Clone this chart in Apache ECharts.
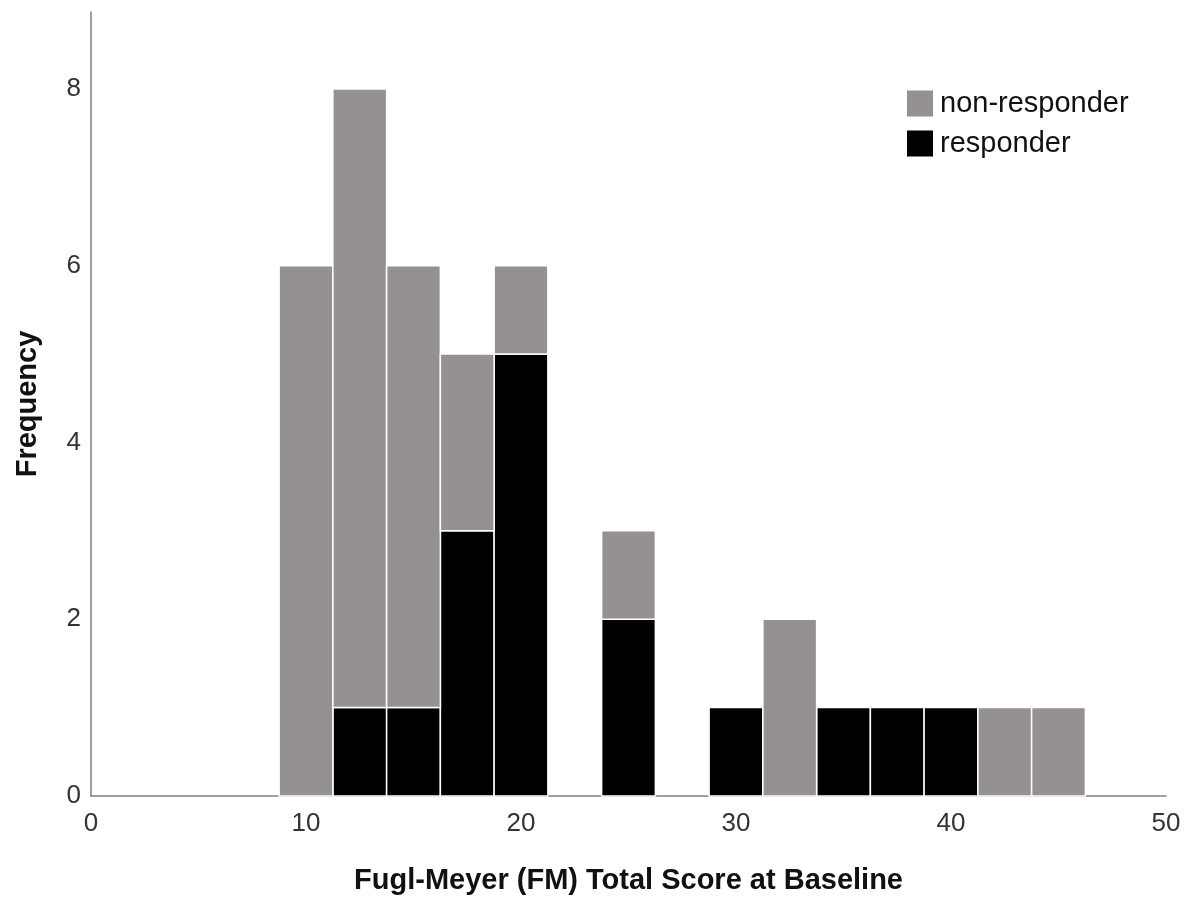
<!DOCTYPE html>
<html><head><meta charset="utf-8">
<script src="https://cdn.jsdelivr.net/npm/echarts@6/dist/echarts.min.js"></script>
<style>html,body{margin:0;padding:0;background:#fff}#c{width:1191px;height:899px}</style>
</head><body><div id="c"></div>
<script>
// Histogram bins (width 2.5), bin centers
const binCenters = [10, 12.5, 15, 17.5, 20, 22.5, 25, 27.5, 30, 32.5, 35, 37.5, 40, 42.5, 45];
const responder    = [0, 1, 1, 3, 5, 0, 2, 0, 1, 0, 1, 1, 1, 0, 0];
const nonResponder = [6, 7, 5, 2, 1, 0, 1, 0, 0, 2, 0, 0, 0, 1, 1];
const binWidth = 2.5;
const xTicks = [0, 10, 20, 30, 40, 50];
const yTicks = [0, 2, 4, 6, 8];

const respData = binCenters.map((c, i) => [c - binWidth/2, c + binWidth/2, 0, responder[i]]);
const nonData = binCenters.map((c, i) => [c - binWidth/2, c + binWidth/2, responder[i], responder[i] + nonResponder[i]]);

function renderBar(params, api) {
  const x0 = api.value(0), x1 = api.value(1), y0 = api.value(2), y1 = api.value(3);
  if (y1 <= y0) return null;
  const p0 = api.coord([x0, y0]);
  const p1 = api.coord([x1, y1]);
  return {
    type: 'rect',
    shape: { x: p0[0], y: p1[1], width: p1[0] - p0[0], height: p0[1] - p1[1] },
    style: { fill: api.visual('color'), stroke: '#ffffff', lineWidth: 1.5 }
  };
}

const chart = echarts.init(document.getElementById('c'));
chart.setOption({
  animation: false,
  backgroundColor: '#fff',
  textStyle: { fontFamily: 'Liberation Sans, Arial, sans-serif' },
  grid: { left: 91, right: 25, top: 12, bottom: 103, containLabel: false, outerBoundsMode: 'none' },
  legend: {
    data: ['non-responder', 'responder'],
    orient: 'vertical',
    left: 907, top: 89,
    itemWidth: 26, itemHeight: 26, itemGap: 11,
    icon: 'rect',
    textStyle: { fontSize: 29, lineHeight: 26, color: '#111', padding: [0, 0, 0, 2] },
    padding: 0
  },
  xAxis: {
    type: 'value', min: 0, max: 50, interval: 10,
    name: 'Fugl-Meyer (FM) Total Score at Baseline',
    nameLocation: 'middle', nameGap: 70,
    nameTextStyle: { fontSize: 29, fontWeight: 'bold', color: '#111' },
    axisLine: { show: true, lineStyle: { color: '#808080', width: 1.5 } },
    axisTick: { show: false },
    splitLine: { show: false },
    axisLabel: { fontSize: 26, color: '#333', margin: 15, formatter: v => xTicks.includes(v) ? String(v) : '' }
  },
  yAxis: {
    type: 'value', min: 0, max: 8.87, interval: 2,
    name: 'Frequency',
    nameLocation: 'middle', nameGap: 49, nameRotate: 90,
    nameTextStyle: { fontSize: 29, fontWeight: 'bold', color: '#111' },
    axisLine: { show: true, lineStyle: { color: '#808080', width: 1.5 } },
    axisTick: { show: false },
    splitLine: { show: false },
    axisLabel: { fontSize: 26, color: '#333', margin: 10, showMaxLabel: false,
      formatter: v => yTicks.includes(v) ? String(v) : '' }
  },
  series: [
    { name: 'responder', type: 'custom', renderItem: renderBar, itemStyle: { color: '#000000' },
      encode: { x: [0, 1], y: [2, 3] }, data: respData, z: 2 },
    { name: 'non-responder', type: 'custom', renderItem: renderBar, itemStyle: { color: '#959190' },
      encode: { x: [0, 1], y: [2, 3] }, data: nonData, z: 2 }
  ]
});
</script></body></html>
